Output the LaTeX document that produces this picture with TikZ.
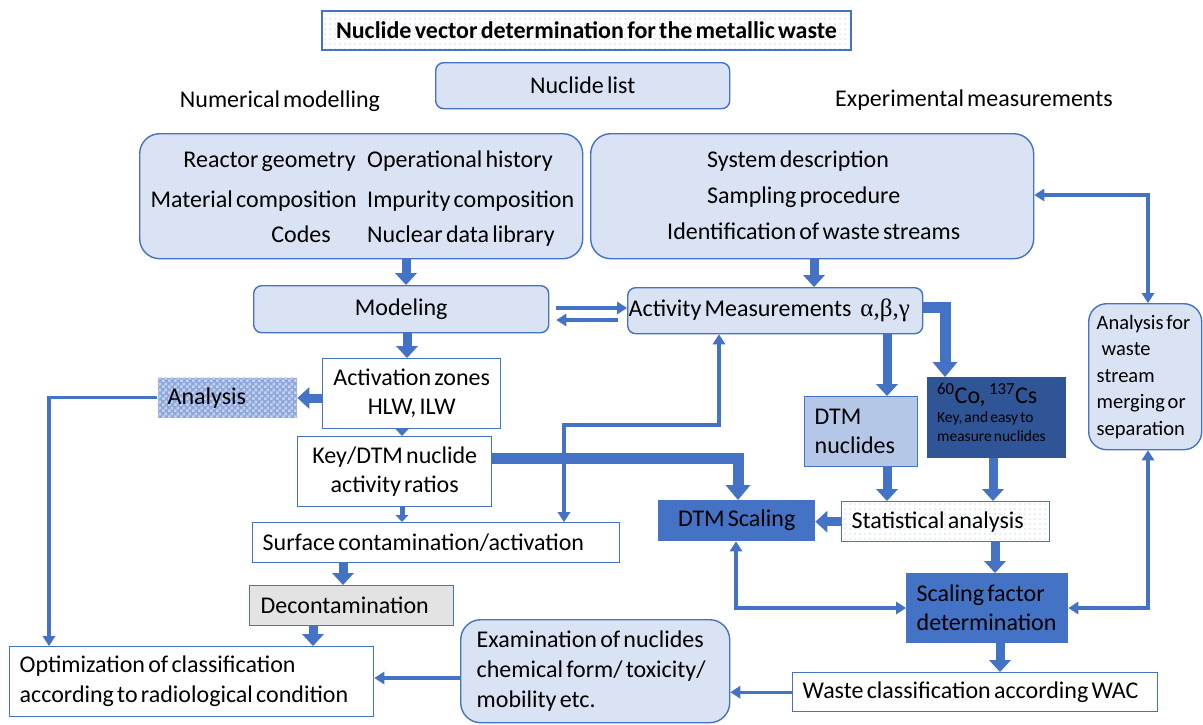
\documentclass[tikz,border=0pt]{standalone}
\usepackage{fontspec}
\setmainfont{Carlito}[WordSpace=0.6]
\newfontfamily\grk{Liberation Serif}
\usetikzlibrary{arrows.meta,patterns}
\definecolor{ab}{HTML}{4472C4}
\definecolor{lf}{HTML}{DAE3F3}
\definecolor{mf}{HTML}{B4C7E7}
\definecolor{df}{HTML}{2F5597}
\definecolor{dotc}{HTML}{9FB5DF}
\definecolor{chkA}{HTML}{8EA8DA}
\definecolor{chkB}{HTML}{C3D2EE}
\definecolor{grayf}{HTML}{E3E3E3}
\pgfdeclarepatternformonly{sdots}{\pgfpoint{-1pt}{-1pt}}{\pgfpoint{1pt}{1pt}}{\pgfpoint{5pt}{5pt}}{\pgfpathcircle{\pgfpointorigin}{0.7pt}\pgfusepath{fill}}
\pgfdeclarepatternformonly{chk}{\pgfpointorigin}{\pgfpoint{6pt}{6pt}}{\pgfpoint{6pt}{6pt}}{\pgfpathrectangle{\pgfpointorigin}{\pgfpoint{3pt}{3pt}}\pgfpathrectangle{\pgfpoint{3pt}{3pt}}{\pgfpoint{3pt}{3pt}}\pgfusepath{fill}}
\tikzset{
  box/.style={draw=ab, line width=1.4pt, anchor=north west, inner sep=0pt, align=center},
  rbox/.style={box, fill=lf, rounded corners=8pt},
  lft/.style={align=flush left, inner xsep=10pt},
  txt/.style={inner sep=0pt, text height=16pt, text depth=5pt},
  blk/.style={draw=ab, line width=9pt, -{Triangle[width=22pt,length=12pt,line width=0pt]}},
  sml/.style={draw=ab, line width=5pt, -{Triangle[width=13pt,length=7pt,line width=0pt]}},
  thk/.style={draw=ab, line width=11pt, -{Triangle[width=25pt,length=15pt,line width=0pt]}},
  thn/.style={draw=ab, line width=3.4pt, -{Triangle[width=13pt,length=10pt,line width=0pt]}},
  thn2/.style={draw=ab, line width=3.4pt, {Triangle[width=13pt,length=10pt,line width=0pt]}-{Triangle[width=13pt,length=10pt,line width=0pt]}}
}
\begin{document}
\begin{tikzpicture}[x=1pt,y=-1pt,font=\fontsize{24}{29}\selectfont]
\fill[white] (0,0) rectangle (1203,724);
\useasboundingbox (0,0) rectangle (1203,724);

% top
\node[box, pattern=sdots, pattern color=dotc, line width=2pt, minimum width=529pt, minimum height=39pt, font=\fontsize{24}{29}\selectfont\bfseries] (title) at (321,10) {Nuclide vector determination for the metallic waste};
\node[rbox, minimum width=294pt, minimum height=46pt] (nlist) at (435,62) {Nuclide list};
\node (numm) at (280,101) {Numerical modelling};
\node (expm) at (974,100) {Experimental measurements};

% big boxes
\node[rbox, rounded corners=20pt, minimum width=443pt, minimum height=125pt] (lbox) at (139,133) {};
\node[txt, anchor=east] (l1) at (356,162) {Reactor geometry};
\node[txt, anchor=east] (l2) at (357,202) {Material composition};
\node[txt, anchor=east] (l3) at (331,237) {Codes};
\node[txt, anchor=west] (r1) at (367,162) {Operational history};
\node[txt, anchor=west] (r2) at (367,202) {Impurity composition};
\node[txt, anchor=west] (r3) at (367,237) {Nuclear data library};

\node[rbox, rounded corners=20pt, minimum width=443pt, minimum height=125pt] (rbx) at (590,133) {};
\node[txt, anchor=west] (s1) at (707,162) {System description};
\node[txt, anchor=west] (s2) at (707,198) {Sampling procedure};
\node[txt, anchor=west] (s3) at (667,234) {Identification of waste streams};

% left column
\node[rbox, minimum width=295pt, minimum height=47pt] (modeling) at (253,285) {Modeling};
\node[box, fill=white, minimum width=178pt, minimum height=70pt] (actzones) at (322,358) {Activation zones\\HLW, ILW};
\node[box, draw=none, fill=chkA, postaction={pattern=chk, pattern color=chkB}, lft, text width=119pt, minimum height=40pt] (analysis) at (157,377) {Analysis};
\node[box, fill=white, minimum width=194pt, minimum height=70pt] (keydtm) at (297,436) {Key/DTM nuclide\\activity ratios};
\node[box, fill=white, lft, text width=347pt, minimum height=40pt] (surface) at (252,522) {Surface contamination/activation};
\node[box, fill=grayf, lft, inner xsep=11pt, text width=182pt, minimum height=40pt] (decon) at (249,585) {Decontamination};
\node[box, fill=white, lft, text width=344pt, minimum height=70pt, font=\fontsize{24}{30}\selectfont] (optim) at (9,646) {Optimization of classification\\according to radiological condition};
\node[rbox, rounded corners=20pt, lft, inner xsep=16pt, text width=237pt, minimum height=103pt, font=\fontsize{24}{30}\selectfont] (exam) at (460,619) {Examination of nuclides\\chemical form/ toxicity/\\mobility etc.};

% right column
\node[rbox, lft, inner xsep=1pt, text width=293pt, minimum height=46pt] (activity) at (627,287) {Activity Measurements\hspace{9pt}{\grk\fontsize{25}{29}\selectfont α,β,γ}};
\node[box, fill=mf, lft, text width=93pt, minimum height=70pt] (dtmnuc) at (804,396) {DTM\\nuclides};
\node[box, draw=df, fill=df, minimum width=138pt, minimum height=80pt] (cocs) at (927,377) {};
\node[txt, anchor=west] (co1) at (937,398) {\textsuperscript{60}Co, \textsuperscript{137}Cs};
\node[inner sep=0pt, anchor=north west, align=flush left, font=\fontsize{15.5}{19}\selectfont] (co2) at (937,412) {Key, and easy to\\measure nuclides};
\node[box, fill=ab, minimum width=156pt, minimum height=40pt] (dtmscal) at (658,500) {DTM Scaling};
\node[box, pattern=sdots, pattern color=dotc, lft, text width=188pt, minimum height=40pt] (stat) at (841,501) {Statistical analysis};
\node[box, fill=ab, lft, text width=141pt, minimum height=69pt] (sfac) at (906,573) {Scaling factor\\determination};
\node[box, fill=white, lft, text width=345pt, minimum height=39pt] (waste) at (792,672) {Waste classification according WAC};
\node[rbox, rounded corners=18pt, lft, inner xsep=8pt, text width=97pt, minimum height=146pt, font=\fontsize{20.5}{26.5}\selectfont] (anfor) at (1088,303) {Analysis for\\\hspace*{5pt}waste\\stream\\merging or\\separation};

% connectors
\draw[blk] (406,0 |- lbox.south) -- (406,0 |- modeling.north);
\draw[blk] (814,0 |- rbx.south) -- (814,0 |- activity.north);
\draw[thn, shorten <=7pt] (modeling.east |- 0,308) -- (activity.west |- 0,308);
\draw[thn, shorten <=9pt, shorten >=7pt] (activity.west |- 0,320) -- (modeling.east |- 0,320);
\draw[blk] (407,0 |- modeling.south) -- (407,0 |- actzones.north);
\draw[blk] (actzones.west |- 0,398) -- (analysis.east |- 0,398);
\draw[thn] (analysis.west) -- (49,0 |- analysis.west) -- (49,0 |- optim.north);
\draw[sml] (402,0 |- actzones.south) -- (402,0 |- keydtm.north);
\draw[sml] (402,0 |- keydtm.south) -- (402,0 |- surface.north);
\draw[blk] (343,0 |- surface.south) -- (343,0 |- decon.north);
\draw[blk] (313,0 |- decon.south) -- (313,0 |- optim.north);
\draw[thn] (exam.west |- 0,678) -- (optim.east |- 0,678);
\draw[thn] (waste.west) -- (exam.east |- waste.west);
\draw[blk] (1000,0 |- sfac.south) -- (1000,0 |- waste.north);
\draw[blk] (995,0 |- stat.south) -- (995,0 |- sfac.north);
\draw[blk] (993,0 |- cocs.south) -- (993,0 |- stat.north);
\draw[blk] (887,0 |- dtmnuc.south) -- (887,0 |- stat.north);
\draw[blk] (887,0 |- activity.south) -- (887,0 |- dtmnuc.north);
\draw[thk] (activity.east |- 0,307) -- (945,307) -- (945,0 |- cocs.north);
\draw[thk] (keydtm.east |- 0,458) -- (738,458) -- (738,0 |- dtmscal.north);
\draw[blk] (stat.west) -- (dtmscal.east |- stat.west);
\draw[thn2] (736,0 |- dtmscal.south) -- (736,608) -- (sfac.west |- 0,608);
\draw[thn2] (564,0 |- surface.north) -- (564,425) -- (719,425) -- (719,0 |- activity.south);
\draw[thn2] (rbx.east |- 0,195) -- (1148,195) -- (1148,0 |- anfor.north);
\draw[thn2] (1148,0 |- anfor.south) -- (1148,608) -- (sfac.east |- 0,608);
\end{tikzpicture}
\end{document}
